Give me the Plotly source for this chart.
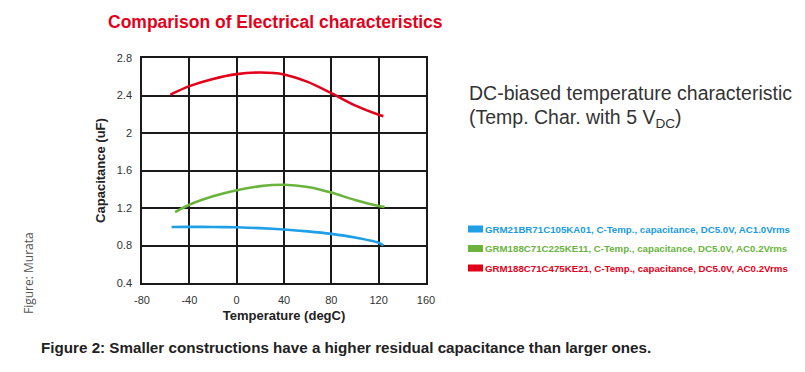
import plotly.graph_objects as go

temps_blue = [-55, -40, -20, 0, 20, 40, 60, 80, 100, 120, 124]
cap_blue = [0.998, 0.999, 0.998, 0.994, 0.985, 0.971, 0.951, 0.924, 0.885, 0.83, 0.80]

temps_green = [-52, -40, -20, 0, 20, 40, 60, 80, 100, 120, 125]
cap_green = [1.157, 1.235, 1.325, 1.39, 1.433, 1.448, 1.425, 1.365, 1.285, 1.222, 1.212]

temps_red = [-56, -40, -20, 0, 20, 40, 60, 80, 100, 120, 124]
cap_red = [2.41, 2.50, 2.577, 2.628, 2.645, 2.625, 2.545, 2.425, 2.295, 2.195, 2.18]

series_names = [
    "GRM21BR71C105KA01, C-Temp., capacitance, DC5.0V, AC1.0Vrms",
    "GRM188C71C225KE11, C-Temp., capacitance, DC5.0V, AC0.2Vrms",
    "GRM188C71C475KE21, C-Temp., capacitance, DC5.0V, AC0.2Vrms",
]
series_colors = ["#1e9fe6", "#6ab43e", "#e2001a"]
text_colors = ["#1a9be0", "#6ab43e", "#e2001a"]

x_ticks = [-80, -40, 0, 40, 80, 120, 160]
y_ticks = [0.4, 0.8, 1.2, 1.6, 2.0, 2.4, 2.8]
y_tick_text = ["0.4", "0.8", "1.2", "1.6", "2", "2.4", "2.8"]

OFF = 8  # page body margin
W, H = 805 - OFF, 372 - OFF
L, R, T, B = 142 - OFF, 379, 58 - OFF, 89

fig = go.Figure()
for tx, cy, name, col in [
    (temps_blue, cap_blue, series_names[0], series_colors[0]),
    (temps_green, cap_green, series_names[1], series_colors[1]),
    (temps_red, cap_red, series_names[2], series_colors[2]),
]:
    fig.add_trace(go.Scatter(x=tx, y=cy, mode="lines", name=name,
                             line=dict(color=col, width=2.6, shape="spline", smoothing=0.8),
                             showlegend=False))

tick_font = dict(family="Liberation Sans, Arial", size=11, color="#333333")
fig.update_xaxes(range=[-80, 160], tickvals=x_ticks, ticktext=[str(v) for v in x_ticks],
                 showgrid=True, gridcolor="#1a1a1a", gridwidth=1.5,
                 showline=True, linecolor="#1a1a1a", linewidth=1.5, mirror=True,
                 zeroline=False, ticks="", tickfont=tick_font, ticklabelstandoff=6,
                 title=dict(text="<b>Temperature (degC)</b>",
                            font=dict(family="Liberation Sans, Arial", size=13, color="#222222"),
                            standoff=6))
fig.update_yaxes(range=[0.4, 2.8], tickvals=y_ticks, ticktext=y_tick_text,
                 showgrid=True, gridcolor="#1a1a1a", gridwidth=1.5,
                 showline=True, linecolor="#1a1a1a", linewidth=1.5, mirror=True,
                 zeroline=False, ticks="", tickfont=tick_font, ticklabelstandoff=6,
                 title=dict(text="<b>Capacitance (uF)</b>",
                            font=dict(family="Liberation Sans, Arial", size=13, color="#222222"),
                            standoff=8))

annotations = []
shapes = []

def px_x(p):
    p = p - OFF
    return (p - L) / (W - L - R)

def px_y(p):
    p = p - OFF
    return (H - B - p) / (H - T - B)

# Title
annotations.append(dict(text="<b>Comparison of Electrical characteristics</b>", x=px_x(106), y=px_y(22),
                        xref="paper", yref="paper", xanchor="left", yanchor="middle", showarrow=False,
                        font=dict(family="Liberation Sans, Arial", size=17.5, color="#e3001b")))
# Right text
annotations.append(dict(text="DC-biased temperature characteristic", x=px_x(467), y=px_y(93),
                        xref="paper", yref="paper", xanchor="left", yanchor="middle", showarrow=False,
                        font=dict(family="Liberation Sans, Arial", size=19.5, color="#333333")))
annotations.append(dict(text="(Temp. Char. with 5 V<sub>DC</sub>)", x=px_x(467), y=px_y(118),
                        xref="paper", yref="paper", xanchor="left", yanchor="middle", showarrow=False,
                        font=dict(family="Liberation Sans, Arial", size=19.5, color="#333333")))
# Legend
for i, (name, col, tcol) in enumerate(zip(series_names, series_colors, text_colors)):
    yc = 229 + i * 19.5
    shapes.append(dict(type="rect", xref="paper", yref="paper",
                       x0=px_x(468), x1=px_x(483), y0=px_y(yc - 3.5), y1=px_y(yc + 3.5),
                       fillcolor=col, line=dict(width=0)))
    annotations.append(dict(text="<b>" + name + "</b>", x=px_x(483), y=px_y(yc),
                            xref="paper", yref="paper", xanchor="left", yanchor="middle", showarrow=False,
                            font=dict(family="Liberation Sans, Arial", size=9.7, color=tcol)))
# Figure: Murata
annotations.append(dict(text="Figure: Murata", x=px_x(28), y=px_y(273), textangle=-90,
                        xref="paper", yref="paper", xanchor="center", yanchor="middle", showarrow=False,
                        font=dict(family="Open Sans, Liberation Sans", size=12, color="#555555")))
# Caption
annotations.append(dict(text="<b>Figure 2: Smaller constructions have a higher residual capacitance than larger ones.</b>",
                        x=px_x(39), y=px_y(348),
                        xref="paper", yref="paper", xanchor="left", yanchor="middle", showarrow=False,
                        font=dict(family="Liberation Sans, Arial", size=15.2, color="#222222")))

fig.update_layout(width=W, height=H, margin=dict(l=L, r=R, t=T, b=B, autoexpand=False),
                  paper_bgcolor="white", plot_bgcolor="white",
                  annotations=annotations, shapes=shapes, showlegend=False)

fig.write_html("out.html")
